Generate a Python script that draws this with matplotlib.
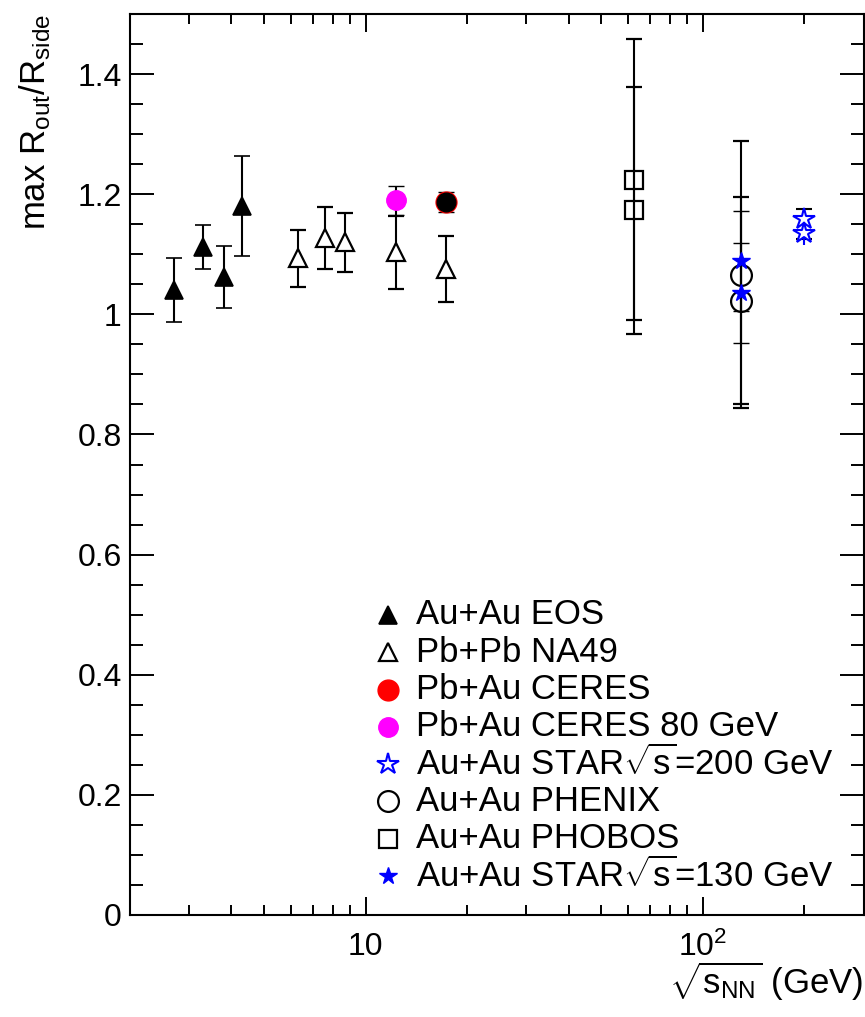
import matplotlib
matplotlib.use("Agg")
import matplotlib.pyplot as plt
from matplotlib.ticker import FixedLocator, FuncFormatter, MultipleLocator, LogLocator, NullFormatter

plt.rcParams['font.family'] = ['Liberation Sans', 'DejaVu Sans']
plt.rcParams['mathtext.fontset'] = 'custom'
plt.rcParams['mathtext.rm'] = 'Liberation Sans'
plt.rcParams['mathtext.it'] = 'Liberation Sans:italic'
plt.rcParams['mathtext.default'] = 'regular'

# ---------------- data ----------------
eos_x = [2.7, 3.3, 3.8, 4.3]
eos_y = [1.040, 1.112, 1.062, 1.180]
eos_err = [0.053, 0.036, 0.051, 0.083]

na49_x = [6.3, 7.6, 8.7, 12.3, 17.3]
na49_y = [1.093, 1.127, 1.120, 1.103, 1.075]
na49_err = [0.047, 0.051, 0.049, 0.061, 0.055]

ceres_x = [17.3]
ceres_y = [1.187]
ceres_err = [0.016]

ceres80_x = [12.3]
ceres80_y = [1.190]
ceres80_err = [0.024]

star200_x = [200.0, 200.0]
star200_y = [1.158, 1.136]
star200_err_lo = [0.033, 0.021]
star200_err_hi = [0.018, 0.021]

phenix_x = [130.0, 130.0]
phenix_y = [1.066, 1.023]
phenix_err = [0.222, 0.172]

phobos_x = [62.4, 62.4]
phobos_y = [1.224, 1.173]
phobos_err = [0.234, 0.205]

star130_x = [130.0, 130.0]
star130_y = [1.089, 1.036]
star130_err = [0.083, 0.083]

legend_labels = ["Au+Au EOS", "Pb+Pb NA49", "Pb+Au CERES", "Pb+Au CERES 80 GeV",
                 r"Au+Au STAR$\sqrt{s}$=200 GeV", "Au+Au PHENIX", "Au+Au PHOBOS",
                 r"Au+Au STAR$\sqrt{s}$=130 GeV"]

y_ticks = [0, 0.2, 0.4, 0.6, 0.8, 1.0, 1.2, 1.4]
x_major = [10, 100]

# ---------------- figure ----------------
fig = plt.figure(figsize=(8.65, 10.17), dpi=100)
ax = fig.add_axes([0.1503, 0.1003, 0.8480, 0.8859])
ax.set_xscale('log')
ax.set_xlim(2, 300)
ax.set_ylim(0, 1.5)

eb = dict(ecolor='black', elinewidth=1.5, capsize=6, capthick=1.5, linestyle='none')

styles = [
    dict(marker='^', ms=12.5, mfc='black', mec='black', mew=1.2),
    dict(marker='^', ms=13.5, mfc='white', mec='black', mew=1.6),
    dict(marker='o', ms=15, mfc='red', mec='red', mew=1),
    dict(marker='o', ms=14, mfc='magenta', mec='magenta', mew=1),
    dict(marker='*', ms=16, mfc='white', mec='blue', mew=1.5),
    dict(marker='o', ms=15, mfc='none', mec='black', mew=1.6),
    dict(marker='s', ms=13.5, mfc='none', mec='black', mew=1.6),
    dict(marker='*', ms=13, mfc='blue', mec='blue', mew=1),
]

ax.errorbar(eos_x, eos_y, yerr=eos_err, **eb, **styles[0], zorder=3)
ax.errorbar(na49_x, na49_y, yerr=na49_err, **eb, **styles[1], zorder=3)
ax.errorbar(ceres80_x, ceres80_y, yerr=ceres80_err, **eb, **styles[3], zorder=4)
ax.errorbar(ceres_x, ceres_y, yerr=ceres_err, **eb, **styles[2], zorder=4)
ax.plot(ceres_x, ceres_y, linestyle='none', marker='o', ms=13.5, mfc='black', mec='black', zorder=5)
ax.errorbar(phobos_x, phobos_y, yerr=phobos_err, **eb, **styles[6], zorder=3)
ax.errorbar(phenix_x, phenix_y, yerr=phenix_err, **eb, **styles[5], zorder=3)
ax.errorbar(star130_x, star130_y, yerr=star130_err, **eb, **styles[7], zorder=4)
ax.errorbar(star200_x[:1], star200_y[:1], yerr=[star200_err_lo[:1], star200_err_hi[:1]], **eb, **styles[4], zorder=4)
ax.errorbar(star200_x[1:], star200_y[1:], yerr=[star200_err_lo[1:], star200_err_hi[1:]],
            ecolor='blue', elinewidth=1.5, capsize=0, linestyle='none', **styles[4], zorder=4)

# ---------------- legend (manual rows) ----------------
leg_y0 = 0.333
leg_dy = 0.0414
for i, (lab, st) in enumerate(zip(legend_labels, styles)):
    yy = leg_y0 - i * leg_dy
    ax.plot([0.352], [yy], transform=ax.transAxes, linestyle='none', clip_on=False, **st)
    ax.text(0.390, yy, lab, transform=ax.transAxes, fontsize=25, va='center', ha='left')

# ---------------- axes styling ----------------
ax.yaxis.set_major_locator(FixedLocator(y_ticks))
ax.yaxis.set_minor_locator(MultipleLocator(0.05))
ax.yaxis.set_major_formatter(FuncFormatter(lambda v, p: '%g' % v))
ax.xaxis.set_major_locator(FixedLocator(x_major))
ax.xaxis.set_minor_locator(LogLocator(base=10, subs=[2, 3, 4, 5, 6, 7, 8, 9]))
ax.xaxis.set_major_formatter(FuncFormatter(lambda v, p: '10' if abs(v - 10) < 1e-6 else r'10$^{2}$'))
ax.xaxis.set_minor_formatter(NullFormatter())

ax.tick_params(which='both', direction='in', top=True, right=True, width=1.4, labelsize=23)
ax.tick_params(axis='y', which='major', length=17, pad=6)
ax.tick_params(axis='y', which='minor', length=9.5)
ax.tick_params(axis='x', which='major', length=13, pad=12)
ax.tick_params(axis='x', which='minor', length=7)
for s in ax.spines.values():
    s.set_linewidth(1.5)

ax.set_ylabel(r'max R$_{out}$/R$_{side}$', fontsize=25, loc='top')
ax.yaxis.set_label_coords(-0.105, 1.0)
ax.set_xlabel(r'$\sqrt{s_{NN}}$ (GeV)', fontsize=25, loc='right')
ax.xaxis.set_label_coords(1.0, -0.05)

fig.savefig('out.png', dpi=100)
